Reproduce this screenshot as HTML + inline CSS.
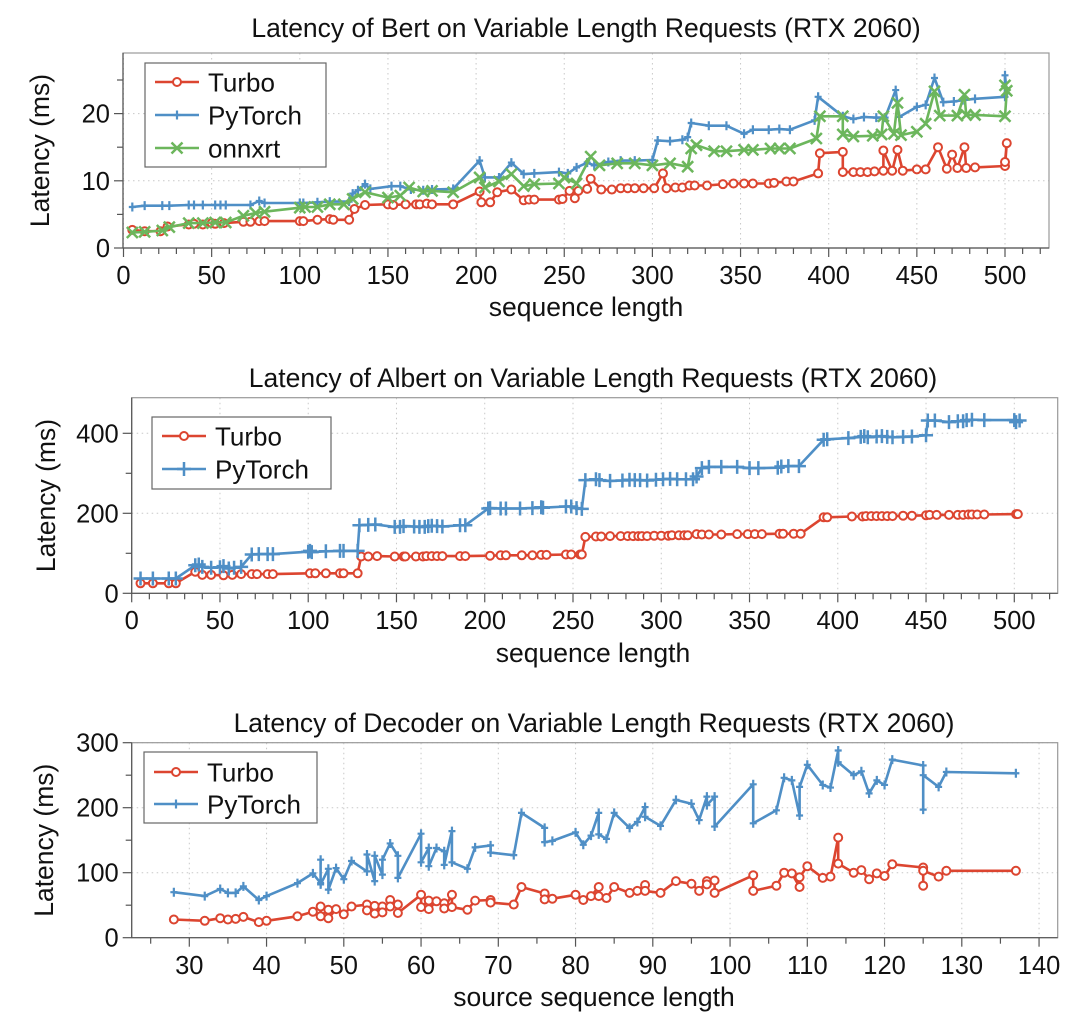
<!DOCTYPE html>
<html><head><meta charset="utf-8"><style>
html,body{margin:0;padding:0;background:#fff;}
svg{display:block;font-family:"Liberation Sans",Arial,sans-serif;}
</style></head><body>
<svg id="fig" width="1080" height="1034" viewBox="0 0 1080 1034" xmlns="http://www.w3.org/2000/svg"></svg>
<script>
// ---------- DATA ----------
const bertTurbo = [[5,2.7],[12,2.5],[21,2.5],[25,3.2],[37,3.5],[40,3.6],[45,3.5],[50,3.7],[52,3.6],[57,3.7],[68,3.9],[72,3.9],[77,4],[80,4],[100,4],[102,4],[110,4.2],[117,4.3],[119,4.2],[128,4.2],[131,5.8],[137,6.4],[150,6.5],[153,6.4],[160,6.5],[166,6.5],[168,6.5],[172,6.6],[175,6.5],[187,6.5],[202,8.4],[203,6.8],[208,6.8],[212,8.3],[220,8.7],[227,7.1],[230,7.2],[233,7.2],[247,7.2],[249,7.3],[253,8.5],[256,7.4],[258,8.5],[263,8.8],[265,10.3],[271,8.7],[277,8.7],[282,8.9],[286,8.9],[290,8.9],[295,8.9],[301,8.9],[306,11.1],[308,8.9],[313,9.0],[317,9.0],[321,9.3],[324,9.3],[331,9.3],[340,9.5],[346,9.6],[352,9.6],[357,9.6],[366,9.6],[369,9.7],[376,9.9],[380,9.9],[394,11.1],[395,14.1],[408,14.3],[408,11.3],[414,11.3],[418,11.3],[422,11.3],[426,11.4],[431,11.5],[431,14.5],[436,11.5],[439,14.6],[442,11.5],[450,11.7],[455,11.7],[462,15.0],[467,11.8],[470,13.9],[473,11.9],[477,15.0],[478,11.9],[483,12.0],[500,12.2],[501,15.6],[500,12.8]];
const bertPyTorch = [[5,6.1],[12,6.3],[22,6.3],[26,6.3],[37,6.4],[40,6.4],[45,6.4],[52,6.4],[55,6.4],[58,6.4],[72,6.4],[77,7.0],[80,6.7],[100,6.7],[102,6.7],[110,6.8],[117,6.9],[128,6.9],[130,8.1],[133,8.6],[137,9.5],[140,8.8],[152,9.2],[157,9.2],[163,8.7],[170,8.6],[175,8.7],[187,8.8],[202,13.0],[205,10.5],[213,10.5],[220,12.7],[227,11.0],[233,11.1],[247,11.3],[252,11.1],[257,12.0],[263,12.7],[267,12.3],[275,12.8],[282,13.0],[290,13.0],[300,13.1],[303,16.0],[310,15.9],[317,16.1],[320,16.5],[322,18.6],[332,18.2],[342,18.2],[352,17.0],[357,17.6],[366,17.6],[372,17.7],[378,17.6],[392,19.0],[394,22.5],[408,19.6],[414,19.2],[420,19.5],[427,19.4],[432,19.4],[438,23.5],[440,19.5],[450,21.0],[455,21.3],[460,25.3],[465,21.7],[471,21.8],[476,22.0],[483,22.2],[500,22.5],[500,25.7],[501,23.0]];
const bertOnnx = [[5,2.3],[12,2.4],[22,2.6],[26,3.1],[37,3.7],[45,3.7],[52,3.8],[58,3.8],[68,4.8],[75,5.2],[80,5.4],[100,6.0],[103,6.1],[110,6.1],[117,6.5],[125,6.5],[130,7.3],[137,8.3],[150,7.5],[157,7.8],[162,9.0],[170,8.4],[175,8.5],[187,8.3],[202,10.5],[205,9.0],[213,9.9],[220,11.0],[227,9.2],[233,9.5],[247,9.6],[250,10.5],[257,9.6],[265,13.6],[270,12.3],[280,12.6],[290,12.6],[300,12.3],[310,12.6],[320,12.1],[322,14.8],[325,15.3],[335,14.4],[342,14.4],[352,14.6],[357,14.6],[367,14.8],[372,14.8],[378,14.8],[393,16.3],[395,19.6],[408,19.6],[408,16.9],[414,16.6],[425,16.7],[430,16.9],[431,19.6],[437,17.0],[439,21.6],[441,16.8],[450,17.3],[455,18.5],[460,23.3],[463,19.7],[473,19.7],[477,22.8],[478,19.8],[483,19.8],[500,19.6],[501,23.4],[500,24.2]];

const albertTurbo = [[5,25],[12,25],[21,25],[25,25],[36,54],[40,46],[45,46],[52,45],[57,46],[62,48],[68,48],[71,48],[77,48],[80,48],[101,50],[104,50],[110,50],[118,50],[120,50],[128,50],[130,92],[134,92],[139,93],[149,92],[154,92],[155,92],[161,92],[165,92],[167,93],[170,93],[173,93],[176,93],[186,93],[189,93],[203,94],[209,95],[212,95],[221,95],[227,95],[232,96],[235,96],[246,97],[249,97],[254,97],[255,97],[257,141],[263,142],[266,142],[271,143],[277,143],[281,143],[284,143],[287,143],[289,143],[292,143],[296,144],[300,144],[304,144],[306,145],[310,145],[313,145],[315,145],[320,148],[323,147],[327,147],[334,147],[343,148],[349,148],[353,148],[357,148],[367,149],[369,149],[375,149],[379,149],[392,190],[394,190],[408,192],[414,192],[416,193],[419,193],[422,193],[425,193],[428,193],[431,193],[437,194],[442,194],[450,195],[452,196],[456,196],[463,196],[468,196],[471,196],[474,197],[476,197],[479,197],[483,197],[501,198],[502,198]];
const albertPyTorch = [[5,37],[12,37],[21,37],[25,37],[36,70],[38,72],[40,66],[45,64],[50,65],[52,68],[55,62],[58,64],[62,66],[68,97],[72,98],[77,98],[80,98],[100,104],[101,106],[102,103],[110,105],[118,106],[120,106],[128,106],[129,170],[134,171],[138,172],[149,166],[152,166],[154,168],[160,167],[163,166],[166,166],[168,168],[170,169],[173,168],[176,167],[186,170],[189,170],[202,212],[203,213],[209,212],[212,212],[220,212],[227,213],[232,215],[233,214],[246,217],[249,217],[252,213],[255,211],[257,283],[263,285],[265,283],[271,281],[278,282],[282,284],[285,283],[288,283],[292,282],[297,284],[301,285],[305,286],[309,285],[314,285],[318,285],[320,292],[323,313],[327,316],[334,316],[343,316],[350,313],[355,313],[366,314],[368,317],[372,318],[378,318],[392,384],[394,385],[406,388],[413,391],[415,393],[417,390],[422,392],[425,393],[428,391],[431,390],[437,391],[442,392],[450,395],[451,432],[455,432],[463,428],[468,430],[471,430],[473,433],[476,434],[483,433],[500,433],[501,428],[503,432]];

const decTurbo = [[28,28],[32,26],[34,30],[35,28],[36,29],[37,32],[39,24],[40,26],[44,33],[46,40],[47,48],[47,33],[48,43],[48,30],[49,44],[50,36],[51,48],[53,51],[53,42],[54,49],[54,37],[55,48],[55,39],[56,58],[56,48],[57,51],[57,38],[60,66],[60,47],[61,57],[61,44],[62,56],[63,53],[63,45],[64,66],[64,47],[66,43],[67,57],[69,58],[69,54],[72,51],[73,78],[76,68],[76,59],[77,60],[80,66],[81,58],[82,64],[83,78],[83,64],[84,61],[85,78],[87,69],[88,72],[89,81],[89,72],[91,69],[93,87],[95,83],[96,72],[97,87],[97,82],[98,88],[98,69],[103,96],[103,72],[106,80],[107,100],[108,99],[109,78],[109,93],[110,110],[112,92],[113,94],[114,154],[114,114],[116,100],[117,104],[118,90],[119,99],[120,95],[121,113],[125,108],[125,80],[125,103],[127,94],[128,103],[137,103]];
const decPyTorch = [[28,70],[32,64],[34,75],[35,69],[36,69],[37,79],[39,58],[40,64],[44,84],[46,99],[47,84],[47,120],[47,82],[48,106],[48,74],[49,107],[50,90],[51,118],[53,102],[53,128],[54,87],[54,126],[55,97],[55,120],[56,145],[57,126],[57,92],[60,160],[60,116],[61,138],[61,110],[62,138],[63,133],[63,112],[64,164],[64,116],[66,106],[67,139],[69,142],[69,131],[72,127],[73,192],[76,169],[76,147],[77,149],[80,162],[81,143],[82,157],[83,192],[83,159],[84,152],[85,192],[87,169],[88,178],[89,201],[89,186],[91,172],[93,212],[95,206],[96,181],[97,217],[97,204],[98,217],[98,171],[103,236],[103,176],[106,196],[107,246],[108,242],[109,188],[109,232],[110,266],[112,235],[113,231],[114,288],[114,270],[116,250],[117,256],[118,222],[119,242],[120,235],[121,274],[125,265],[125,197],[125,250],[127,232],[128,255],[137,253]];

const bertXTicks = [0,50,100,150,200,250,300,350,400,450,500];
const bertYTicks = [0,10,20];
const albertYTicks = [0,200,400];
const decXTicks = [30,40,50,60,70,80,90,100,110,120,130,140];
const decYTicks = [0,100,200,300];

// ---------- DRAWING ----------
const NS = 'http://www.w3.org/2000/svg';
const svg = document.getElementById('fig');
const RED = '#dc4530', BLUE = '#4f8fc6', GREEN = '#6cb65c';
function mk(tag, attrs, parent){
  const e = document.createElementNS(NS, tag);
  for (const k in attrs) e.setAttribute(k, attrs[k]);
  (parent||svg).appendChild(e);
  return e;
}
function marker(g, type, px, py, color){
  let m;
  if (type === 'circle') {
    m = mk('circle', {cx:px, cy:py, r:4, fill:'#fff', stroke:color, 'stroke-width':2}, g);
  } else if (type === 'dot') {
    m = mk('path', {d:`M${px-3.5},${py}H${px+3.5}M${px},${py-4.5}V${py+4.5}`, stroke:color, 'stroke-width':2.2, fill:'none'}, g);
  } else if (type === 'plus') {
    m = mk('path', {d:`M${px-7},${py}H${px+7}M${px},${py-7}V${py+7}`, stroke:color, 'stroke-width':2.5, fill:'none'}, g);
  } else {
    m = mk('path', {d:`M${px-5.5},${py-5.5}L${px+5.5},${py+5.5}M${px-5.5},${py+5.5}L${px+5.5},${py-5.5}`, stroke:color, 'stroke-width':2.5, fill:'none'}, g);
  }
  
  
}
function drawChart(c){
  const g = mk('g', {});
  
  
  const sx = v => c.x0px + (v - c.x0) * c.kx;
  const sy = v => c.y0px - (v - c.y0) * c.ky;
  c.xTicks.forEach(v => {
    const gl = mk('line', {x1:sx(v), x2:sx(v), y1:c.top, y2:c.bottom, stroke:'#c8c8c8', 'stroke-width':1, 'stroke-dasharray':'1.5,3.5'}, g);
    
    
  });
  c.yTicks.forEach(v => {
    if (v === c.y0) return;
    const gl = mk('line', {x1:c.left, x2:c.right, y1:sy(v), y2:sy(v), stroke:'#c8c8c8', 'stroke-width':1, 'stroke-dasharray':'1.5,3.5'}, g);
    
    
  });
  const fr = mk('rect', {x:c.left, y:c.top, width:c.right-c.left, height:c.bottom-c.top, fill:'none', stroke:'#999', 'stroke-width':1.2}, g);
  
  
  mk('line', {x1:c.left, x2:c.right, y1:c.bottom, y2:c.bottom, stroke:'#555', 'stroke-width':1.2}, g);
  mk('line', {x1:c.left, x2:c.left, y1:c.top, y2:c.bottom, stroke:'#555', 'stroke-width':1.2}, g);
  for (let v = c.xMinorStart; v <= c.xMinorEnd + 1e-9; v += c.xMinor) {
    const major = c.xTicks.includes(v);
    mk('line', {x1:sx(v), x2:sx(v), y1:c.bottom, y2:c.bottom + (major ? 9 : 6), stroke:'#555', 'stroke-width':1.2}, g);
  }
  c.xTicks.forEach(v => {
    const t = mk('text', {x:sx(v), y:c.xLabelY, 'text-anchor':'middle', 'font-size':25.5, fill:'#111'}, g);
    t.textContent = v;
    
    
  });
  for (let v = c.y0; v <= c.yMax + 1e-9; v += c.yMinor) {
    const major = c.yTicks.includes(v);
    mk('line', {x1:c.left - (major ? 9 : 6), x2:c.left, y1:sy(v), y2:sy(v), stroke:'#555', 'stroke-width':1.2}, g);
  }
  c.yTicks.forEach(v => {
    const t = mk('text', {x:c.left - 13, y:sy(v) + 9, 'text-anchor':'end', 'font-size':25.5, fill:'#111'}, g);
    t.textContent = v;
    
    
  });
  c.series.forEach(s => {
    const sg = mk('g', {}, g);
    
    
    const pts = s.data.map(p => sx(p[0]).toFixed(1) + ',' + sy(p[1]).toFixed(1)).join(' ');
    const pl = mk('polyline', {points:pts, fill:'none', stroke:s.color, 'stroke-width':2.6, 'stroke-linejoin':'round'}, sg);
    
    
    s.data.forEach(p => marker(sg, s.marker, sx(p[0]), sy(p[1]), s.color));
  });
  const lg = mk('g', {}, g);
  
  
  mk('rect', {x:c.leg[0], y:c.leg[1], width:c.leg[2], height:c.leg[3], fill:'#fff', stroke:'#666', 'stroke-width':1.2}, lg);
  c.series.forEach((s, i) => {
    const ly = c.leg[1] + c.legFirst + i * c.legStep;
    const lx = c.leg[0] + 10;
    const le = mk('g', {}, lg);
    
    
    mk('line', {x1:lx, x2:lx + 44, y1:ly, y2:ly, stroke:s.color, 'stroke-width':2.6}, le);
    marker(le, s.marker, lx + 22, ly, s.color);
    const t = mk('text', {x:lx + 53, y:ly + 9.5, 'font-size':26, fill:'#111'}, le);
    t.textContent = s.label;
  });
  const tt = mk('text', {x:c.titleX, y:c.titleY, 'text-anchor':'middle', 'font-size':26.5, fill:'#111'}, g);
  tt.textContent = c.title;
  
  
  const xl = mk('text', {x:c.titleX, y:c.xTitleY, 'text-anchor':'middle', 'font-size':26.5, fill:'#111'}, g);
  xl.textContent = c.xTitle;
  
  
  const cy = (c.top + c.bottom) / 2;
  const yl = mk('text', {x:c.yTitleX, y:cy, 'text-anchor':'middle', 'font-size':26.5, fill:'#111', transform:`rotate(-90 ${c.yTitleX} ${cy})`}, g);
  yl.textContent = 'Latency (ms)';
  
  
}

drawChart({name:'bert-chart', title:'Latency of Bert on Variable Length Requests (RTX 2060)', titleX:586, titleY:37,
  xTitle:'sequence length', xTitleY:316, yTitleX:49,
  left:123, right:1049, top:53, bottom:248,
  x0:0, x0px:123.5, kx:1.763, y0:0, y0px:248, ky:6.72, yMax:27.5,
  xTicks:bertXTicks, xMinor:10, xMinorStart:0, xMinorEnd:520, yTicks:bertYTicks, yMinor:5, xLabelY:284,
  leg:[145,63,181,104], legFirst:19, legStep:33,
  series:[{label:'Turbo', data:bertTurbo, color:RED, marker:'circle'},
          {label:'PyTorch', data:bertPyTorch, color:BLUE, marker:'dot'},
          {label:'onnxrt', data:bertOnnx, color:GREEN, marker:'x'}]});

drawChart({name:'albert-chart', title:'Latency of Albert on Variable Length Requests (RTX 2060)', titleX:593, titleY:387,
  xTitle:'sequence length', xTitleY:662, yTitleX:55,
  left:131.7, right:1057.7, top:397.7, bottom:593.3,
  x0:0, x0px:131.7, kx:1.7652, y0:0, y0px:593.3, ky:0.4, yMax:480,
  xTicks:bertXTicks, xMinor:10, xMinorStart:0, xMinorEnd:520, yTicks:albertYTicks, yMinor:100, xLabelY:629,
  leg:[152,417,179,72], legFirst:19, legStep:33,
  series:[{label:'Turbo', data:albertTurbo, color:RED, marker:'circle'},
          {label:'PyTorch', data:albertPyTorch, color:BLUE, marker:'plus'}]});

drawChart({name:'decoder-chart', title:'Latency of Decoder on Variable Length Requests (RTX 2060)', titleX:594, titleY:732,
  xTitle:'source sequence length', xTitleY:1006, yTitleX:53,
  left:131.7, right:1057.7, top:742.7, bottom:937.7,
  x0:30, x0px:189.3, kx:7.725, y0:0, y0px:937.7, ky:0.65, yMax:300,
  xTicks:decXTicks, xMinor:5, xMinorStart:25, xMinorEnd:140, yTicks:decYTicks, yMinor:50, xLabelY:974,
  leg:[144,752,173,71], legFirst:20, legStep:32,
  series:[{label:'Turbo', data:decTurbo, color:RED, marker:'circle'},
          {label:'PyTorch', data:decPyTorch, color:BLUE, marker:'dot'}]});
</script>
</body></html>
